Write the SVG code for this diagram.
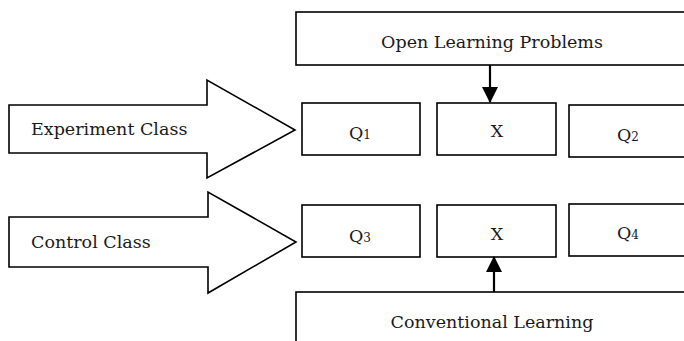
<svg xmlns="http://www.w3.org/2000/svg" width="684" height="341" viewBox="0 0 684 341">
<style>
.box{fill:#fff;stroke:#000;stroke-width:1.6}
.t{font-family:"DejaVu Serif","Liberation Serif",serif;font-size:17.5px;fill:#1a1a1a}
.c{text-anchor:middle}
.sub{font-size:12px}
.conn{stroke:#000;stroke-width:2.2;fill:none}
</style>
<defs>
<marker id="ah2" markerWidth="16" markerHeight="16" refX="15" refY="8" orient="auto" markerUnits="userSpaceOnUse" viewBox="0 0 16 16">
<path d="M0,0 L16,8 L0,16 z" fill="#000"/>
</marker>
</defs>
<g id="exp-class">
<path class="box" d="M9,105 L207,105 L207,80 L295,130 L207,178 L207,153 L9,153 Z"/>
<text class="t" x="31" y="135">Experiment Class</text>
</g>
<g id="ctrl-class">
<path class="box" d="M9,217 L208,217 L208,192 L296,242 L208,293 L208,267 L9,267 Z"/>
<text class="t" x="31" y="248">Control Class</text>
</g>
<g id="open-learning">
<rect class="box" x="296" y="12" width="400" height="53"/>
<text class="t c" x="492" y="48">Open Learning Problems</text>
</g>
<g id="conventional">
<rect class="box" x="296" y="292" width="400" height="60"/>
<text class="t c" x="492" y="328">Conventional Learning</text>
</g>
<g id="q1">
<rect class="box" x="302" y="103" width="118" height="52"/>
<text class="t c" x="360" y="139">Q<tspan class="sub">1</tspan></text>
</g>
<g id="x1">
<rect class="box" x="437" y="103" width="119" height="52"/>
<text class="t c" x="497" y="137">X</text>
</g>
<g id="q2">
<rect class="box" x="569" y="105" width="130" height="52"/>
<text class="t c" x="628" y="141">Q<tspan class="sub">2</tspan></text>
</g>
<g id="q3">
<rect class="box" x="302" y="205" width="118" height="52"/>
<text class="t c" x="360" y="242">Q<tspan class="sub">3</tspan></text>
</g>
<g id="x2">
<rect class="box" x="437" y="205" width="119" height="52"/>
<text class="t c" x="497" y="240">X</text>
</g>
<g id="q4">
<rect class="box" x="569" y="204" width="130" height="52"/>
<text class="t c" x="628" y="239">Q<tspan class="sub">4</tspan></text>
</g>
<g id="connectors">
<line class="conn" x1="490" y1="65" x2="490" y2="102" marker-end="url(#ah2)"/>
<line class="conn" x1="494" y1="292" x2="494" y2="257" marker-end="url(#ah2)"/>
</g>
</svg>
